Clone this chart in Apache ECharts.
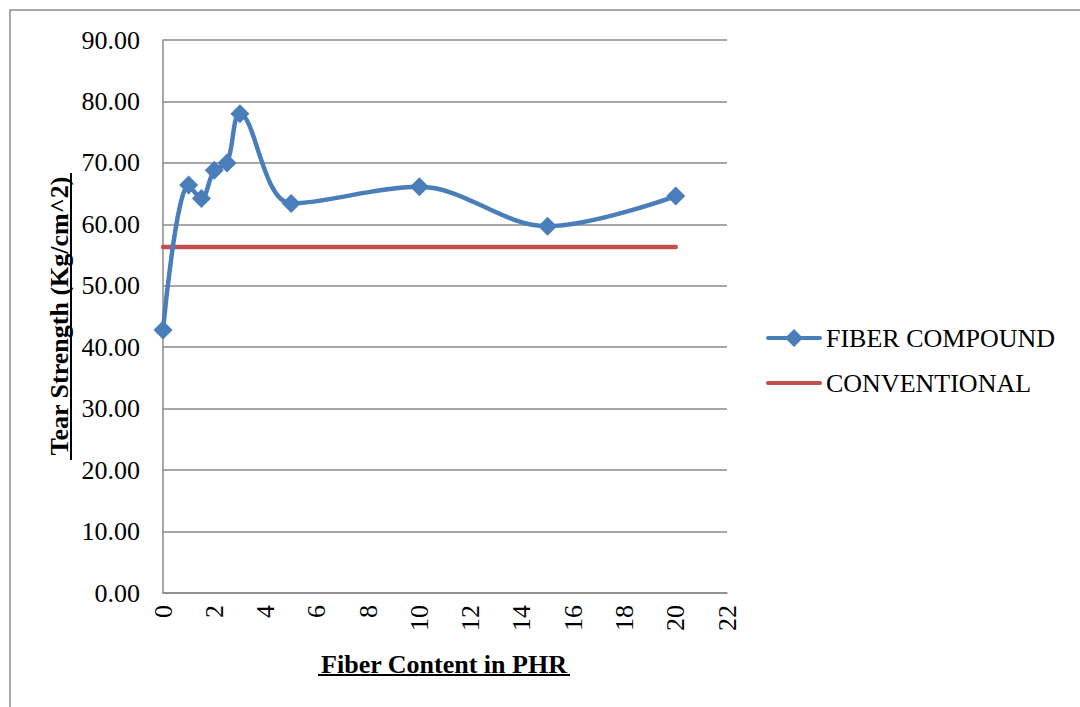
<!DOCTYPE html>
<html>
<head>
<meta charset="utf-8">
<script src="https://cdn.jsdelivr.net/npm/echarts@6/dist/echarts.min.js"></script>
<style>
html,body{margin:0;padding:0;background:#fff;}
#chart{width:1080px;height:707px;}
</style>
</head>
<body>
<div id="chart"></div>
<script>
// Data
const fiberContent = [0, 1, 1.5, 2, 2.5, 3, 5, 10, 15, 20];
const fiberCompound = [42.8, 66.4, 64.2, 68.8, 70.0, 78.0, 63.4, 66.1, 59.7, 64.6];
const conventional = [56.3, 56.3, 56.3, 56.3, 56.3, 56.3, 56.3, 56.3, 56.3, 56.3];
const seriesNames = ['FIBER COMPOUND', 'CONVENTIONAL'];
const xAxisTitle = 'Fiber Content in PHR';
const yAxisTitle = 'Tear Strength (Kg/cm^2)';

const FONT = "'Liberation Serif', 'Times New Roman', serif";
const GRAY = '#8a8a8a';
// legend icons: thick line with diamond / thick line only
const ICON_FIBER = 'path://M2,7 L54,7 Q56,7 56,9 Q56,11 54,11 L2,11 Q0,11 0,9 Q0,7 2,7 Z M28,0 L37,9 L28,18 L19,9 Z';
const ICON_CONV = 'path://M2,0 L54,0 Q56,0 56,2 Q56,4 54,4 L2,4 Q0,4 0,2 Q0,0 2,0 Z';

const chart = echarts.init(document.getElementById('chart'), null, {renderer: 'svg'});
chart.setOption({
  backgroundColor: '#fff',
  animation: false,
  grid: {left: 163, top: 40, right: 353, bottom: 114, containLabel: false},
  legend: {
    orient: 'vertical',
    left: 766,
    top: 325,
    padding: 0,
    itemWidth: 56,
    itemHeight: 18,
    itemGap: 19,
    symbolKeepAspect: true,
    textStyle: {fontFamily: FONT, fontSize: 26, color: '#000', padding: [0, 0, 0, -1]},
    data: [
      {name: seriesNames[0], icon: ICON_FIBER},
      {name: seriesNames[1], icon: ICON_CONV}
    ]
  },
  xAxis: {
    type: 'value',
    min: 0, max: 22, interval: 2,
    axisLine: {show: true, lineStyle: {color: GRAY, width: 1.5}},
    axisTick: {show: false},
    splitLine: {show: false},
    axisLabel: {rotate: 90, margin: 12, fontFamily: FONT, fontSize: 26, color: '#000'}
  },
  yAxis: {
    type: 'value',
    min: 0, max: 90, interval: 10,
    axisLine: {show: true, lineStyle: {color: GRAY, width: 1.5}},
    axisTick: {show: false},
    splitLine: {show: true, lineStyle: {color: GRAY, width: 1.5}},
    axisLabel: {margin: 23, fontFamily: FONT, fontSize: 26, color: '#000',
      formatter: v => v.toFixed(2)}
  },
  series: [
    {
      name: seriesNames[0],
      type: 'line',
      smooth: 0.35,
      data: fiberContent.map((x, i) => [x, fiberCompound[i]]),
      symbol: 'diamond',
      symbolSize: 19,
      itemStyle: {color: '#4A7EBB'},
      lineStyle: {color: '#4A7EBB', width: 4.5},
      z: 3
    },
    {
      name: seriesNames[1],
      type: 'line',
      data: fiberContent.map((x, i) => [x, conventional[i]]),
      symbol: 'none',
      itemStyle: {color: '#C0504D'},
      lineStyle: {color: '#C0504D', width: 4.5, cap: 'round'},
      z: 2
    }
  ],
  graphic: [
    {type: 'rect', silent: true, shape: {x: 10, y: 10, width: 1200, height: 900},
      style: {fill: 'none', stroke: GRAY, lineWidth: 1.5}},
    {type: 'text', x: 444, y: 664, style: {text: xAxisTitle, font: "bold 26px " + FONT,
      fill: '#000', align: 'center', verticalAlign: 'middle'}},
    {type: 'rect', shape: {x: 318, y: 674, width: 252, height: 2}, style: {fill: '#000'}},
    {type: 'text', x: 59, y: 316, rotation: Math.PI / 2, style: {text: yAxisTitle,
      font: "bold 26px " + FONT, fill: '#000', align: 'center', verticalAlign: 'middle'}},
    {type: 'rect', shape: {x: 70, y: 173, width: 2, height: 287}, style: {fill: '#000'}}
  ]
});
</script>
</body>
</html>
